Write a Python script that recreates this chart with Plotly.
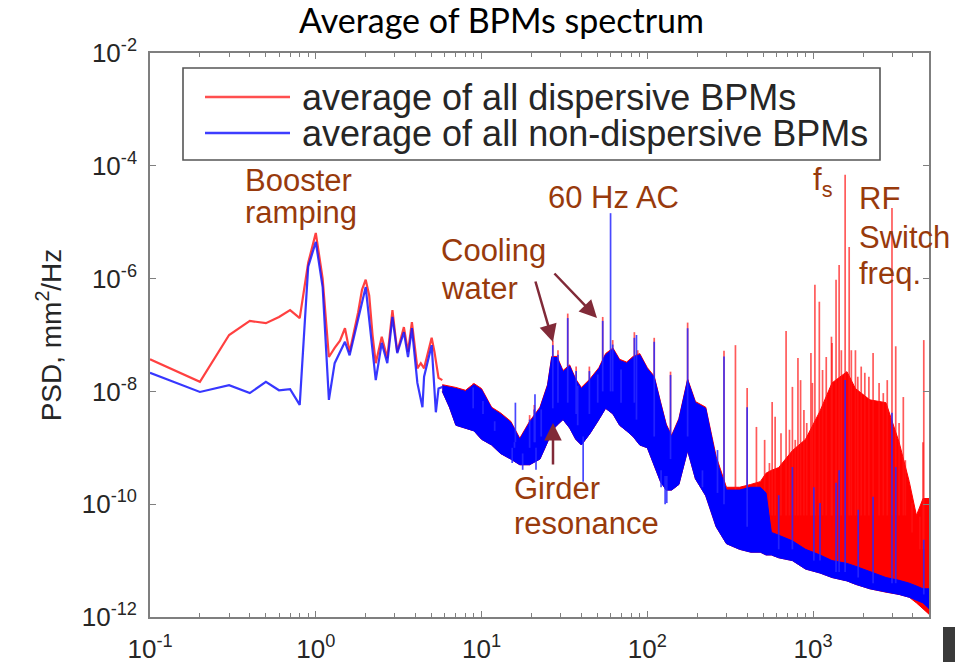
import numpy as np
import plotly.graph_objects as go

# ---------------- data (PSD values given as log10(mm^2/Hz)) ----------------
# low-frequency part, resolved as a line
red_low_f = [0.1, 0.2, 0.3, 0.4, 0.5, 0.6, 0.7, 0.8, 0.9, 1.0, 1.1, 1.2, 1.3, 1.4, 1.5, 1.6, 1.8, 1.9, 2.0,
             2.1, 2.2, 2.3, 2.5, 2.7, 2.9, 3.1, 3.4, 3.6, 3.8, 4.1, 4.3, 4.5, 5.0, 5.2, 5.5, 5.8]
red_low_log = [-7.43, -7.83, -7.0, -6.75, -6.79, -6.68, -6.56, -6.70, -5.72, -5.19, -6.0, -7.39, -7.23, -7.1,
               -6.88, -7.30, -6.6, -6.2, -6.02, -6.3, -7.0, -7.5, -7.03, -7.41, -6.56, -7.30, -6.86, -7.3,
               -6.77, -7.59, -7.5, -7.59, -7.05, -7.3, -7.76, -7.8]

blue_low_f = [0.1, 0.2, 0.3, 0.4, 0.5, 0.6, 0.7, 0.8, 0.9, 1.0, 1.1, 1.2, 1.3, 1.5, 1.6, 1.8, 2.0, 2.3, 2.5,
              2.7, 2.9, 3.1, 3.4, 3.6, 3.8, 4.1, 4.4, 4.5, 5.0, 5.3, 5.5, 5.8]
blue_low_log = [-7.67, -8.01, -7.89, -8.03, -7.83, -7.98, -7.96, -8.24, -5.79, -5.35, -6.15, -8.15, -7.50,
                -7.12, -7.36, -6.7, -6.15, -7.80, -7.14, -7.50, -6.68, -7.32, -6.95, -7.39, -6.88, -7.85,
                -8.28, -7.74, -7.18, -8.37, -7.95, -7.92]

# dense part, drawn as the band between the upper and lower edge of the trace
band_f = [5.8, 6.4, 7, 8, 9, 10, 11.5, 13, 15, 17, 19.5, 22.5, 25, 26.5, 28.5, 31, 34, 37, 40, 45, 51, 56,
          62, 68, 75, 82, 90, 100, 110, 120, 130, 140, 155, 175, 195, 225, 260, 300, 360, 420, 480, 520,
          560, 620, 750, 900, 1100, 1300, 1600, 1800, 2200, 2750, 3300, 3800, 4200, 4600, 5000]
blue_band_upper = [-7.9, -7.92, -7.95, -8.0, -7.88, -7.97, -8.3, -8.4, -8.55, -8.85, -8.55, -8.3,
                   -7.9, -7.4, -7.4, -7.65, -7.55, -7.8, -7.95, -7.8, -7.6, -7.35, -7.25, -7.45,
                   -7.5, -7.4, -7.35, -7.6, -7.75, -8.2, -8.6, -8.8, -8.5, -7.8, -8.2, -8.3,
                   -9.2, -9.75, -9.75, -9.7, -9.7, -9.8, -10.5, -10.55, -10.65, -10.8, -10.9, -11.0,
                   -11.05, -11.1, -11.2, -11.3, -11.35, -11.4, -11.45, -11.5, -11.5]
blue_band_lower = [-8.0, -8.28, -8.6, -8.65, -8.7, -8.85, -8.95, -9.1, -9.2, -9.3, -9.3, -9.2,
                   -8.9, -8.7, -8.6, -8.5, -8.65, -8.85, -8.95, -8.75, -8.5, -8.3, -8.4, -8.6,
                   -8.7, -8.8, -8.95, -9.0, -9.3, -9.6, -9.75, -9.75, -9.65, -9.05, -9.55, -9.85,
                   -10.4, -10.7, -10.8, -10.85, -10.85, -10.9, -10.9, -10.95, -11.0, -11.15, -11.22, -11.3,
                   -11.36, -11.42, -11.5, -11.56, -11.6, -11.65, -11.7, -11.75, -11.85]
red_band_upper = [-7.88, -7.9, -7.93, -7.98, -7.86, -7.95, -8.28, -8.38, -8.53, -8.83, -8.53, -8.28,
                  -7.88, -7.38, -7.38, -7.63, -7.53, -7.78, -7.93, -7.78, -7.58, -7.33, -7.23, -7.43,
                  -7.48, -7.38, -7.33, -7.58, -7.73, -8.18, -8.58, -8.78, -8.48, -7.78, -8.18, -8.28,
                  -9.15, -9.7, -9.7, -9.65, -9.6, -9.45, -9.4, -9.35, -9.05, -8.85, -8.35, -7.85,
                  -7.65, -7.95, -8.15, -8.2, -8.9, -9.6, -10.2, -9.9, -9.9]
red_band_lower = [-8.0, -8.28, -8.6, -8.65, -8.7, -8.85, -8.95, -9.1, -9.2, -9.3, -9.3, -9.2,
                  -8.9, -8.7, -8.6, -8.5, -8.65, -8.85, -8.95, -8.75, -8.5, -8.3, -8.4, -8.6,
                  -8.7, -8.8, -8.95, -9.0, -9.3, -9.6, -9.75, -9.75, -9.65, -9.05, -9.55, -9.85,
                  -10.4, -10.7, -10.8, -10.85, -10.85, -10.9, -10.9, -10.95, -11.0, -11.15, -11.22, -11.3,
                  -11.36, -11.42, -11.5, -11.56, -11.6, -11.65, -11.75, -11.85, -11.95]

# narrow lines (spikes): frequency, level inside the band, level at the tip
red_spike_f = [8.9, 10.2, 12.0, 13.4, 15.8, 18.2, 19.5, 20.8, 22.9, 25.1, 26.9, 28.9, 33.1, 37.2, 41.7, 44.7,
               50.2, 53.8, 61.8, 69.4, 83.5, 87.5, 98.2, 110, 138, 175, 290, 340, 400, 455, 510, 545, 566,
               590, 640, 687, 720, 750, 780, 810, 840, 880, 915, 970, 990, 1025, 1090, 1140, 1200, 1290,
               1300, 1375, 1435, 1480, 1560, 1650, 1700, 1800, 1860, 1950, 2050, 2170, 2300, 2500, 2650,
               2800, 2990, 3150, 3300, 3500, 3600, 3950, 4400, 4600, 4650]
red_spike_base = [-8.3, -8.4, -8.7, -8.8, -9.0, -9.1, -9.0, -8.9, -8.8, -8.6, -8.2, -8.2, -8.2, -8.4, -8.5,
                  -8.4, -8.2, -8.0, -8.0, -8.2, -8.2, -8.2, -8.4, -8.5, -9.2, -8.8, -10.0, -10.2, -10.2,
                  -10.2, -10.2, -10.2, -10.2, -10.2, -10.2, -10.2, -10.2, -10.2, -10.2, -10.2, -10.2,
                  -10.2, -10.2, -10.2, -10.2, -10.2, -10.2, -10.2, -10.2, -10.2, -10.2, -10.2, -10.2,
                  -10.2, -10.2, -10.2, -10.2, -10.2, -10.2, -10.2, -10.2, -10.2, -10.2, -10.2, -10.2,
                  -10.2, -10.2, -10.2, -10.2, -10.2, -10.2, -10.5, -10.8, -10.8, -10.8]
red_spike_peak = [-7.86, -8.09, -8.45, -8.57, -8.83, -8.86, -8.42, -8.24, -8.24, -8.09, -7.1, -7.27, -6.62,
                  -7.56, -7.92, -7.56, -7.62, -6.68, -7.09, -7.53, -6.95, -7.27, -7.68, -7.05, -7.65,
                  -6.78, -7.28, -7.18, -7.94, -8.63, -8.86, -9.27, -8.19, -8.45, -8.74, -6.93, -8.68,
                  -7.92, -8.86, -7.41, -7.8, -8.33, -8.56, -7.32, -7.85, -6.11, -6.41, -7.62, -7.39,
                  -7.03, -7.14, -6.02, -5.76, -7.27, -4.16, -5.44, -7.27, -7.27, -7.74, -7.56, -7.67,
                  -7.74, -7.32, -7.85, -8.03, -7.8, -4.75, -7.2, -8.56, -8.1, -9.22, -9.98, -10.22,
                  -8.9, -7.09]

blue_spike_f = [8.9, 10.2, 12.0, 15.8, 16, 19.5, 20.8, 21, 22.9, 26.9, 28.9, 33.1, 37.2, 38, 41, 44.7, 50.2,
                53.8, 60, 61.8, 69.4, 83.5, 86, 110, 128, 138, 175, 265, 290, 400, 620, 750, 1010, 1100,
                1375, 1435, 1560, 1870, 2300, 2990, 3150, 4650,
                15.3, 17.7, 21.3, 121, 131, 215]
blue_spike_base = [-8.3, -8.4, -8.7, -9.0, -8.9, -9.0, -8.9, -8.9, -8.8, -8.3, -8.2, -8.2, -8.4, -8.6, -8.8,
                   -8.4, -8.2, -8.0, -8.0, -8.0, -8.2, -8.2, -8.5, -8.8, -9.5, -9.2, -8.8, -9.8, -10.0,
                   -10.4, -10.8, -10.8, -11.0, -11.0, -11.2, -11.2, -11.2, -11.3, -11.4, -11.4, -11.4, -11.6,
                   -9.0, -9.1, -9.0, -9.4, -9.5, -9.4]
blue_spike_peak = [-7.93, -8.17, -8.53, -8.9, -8.2, -8.5, -8.32, -8.05, -8.32, -7.18, -7.35, -6.7, -7.64,
                   -7.9, -9.6, -7.64, -7.7, -6.75, -4.84, -7.17, -7.61, -7.05, -7.0, -7.12, -10.0, -7.71,
                   -6.88, -9.04, -7.38, -8.28, -9.84, -9.34, -9.7, -9.98, -9.62, -9.4, -7.8, -10.1, -9.87,
                   -8.38, -9.34, -10.63,
                   -9.27, -9.39, -9.39, -9.7, -9.98, -9.7]

series_names = ["average of all dispersive BPMs", "average of all non-dispersive BPMs"]
x_range_hz = [0.1, 5000]
y_range_log = [-12, -2]
x_tick_vals = [0.1, 1, 10, 100, 1000]
x_tick_text = ["10<sup>-1</sup>", "10<sup>0</sup>", "10<sup>1</sup>", "10<sup>2</sup>", "10<sup>3</sup>"]
x_minor_vals = [0.2, 0.3, 0.4, 0.5, 0.6, 0.7, 0.8, 0.9, 2, 3, 4, 5, 6, 7, 8, 9, 20, 30, 40, 50, 60, 70, 80,
                90, 200, 300, 400, 500, 600, 700, 800, 900, 2000, 3000, 4000, 5000]
y_tick_vals = [1e-12, 1e-10, 1e-8, 1e-6, 1e-4, 1e-2]
y_tick_text = ["10<sup>-12</sup>", "10<sup>-10</sup>", "10<sup>-8</sup>", "10<sup>-6</sup>",
               "10<sup>-4</sup>", "10<sup>-2</sup>"]

# ---------------- helpers ----------------
def pw(vals):
    return [10.0 ** v for v in vals]

def band_polygon(f, up, lo):
    return list(f) + list(f)[::-1], pw(list(up) + list(lo)[::-1])

def spike_xy(f, base, peak):
    xs, ys = [], []
    for fi, b, p in zip(f, base, peak):
        xs += [fi, fi, None]
        ys += [10.0 ** b, 10.0 ** p, None]
    return xs, ys

RED = "rgb(255,0,0)"
BLUE = "rgb(0,0,255)"

fig = go.Figure()

bx, by = band_polygon(band_f, red_band_upper, red_band_lower)
fig.add_trace(go.Scatter(x=bx, y=by, fill="toself", fillcolor=RED, mode="lines",
                         line=dict(color=RED, width=1), showlegend=False, hoverinfo="skip"))
sx, sy = spike_xy(red_spike_f, red_spike_base, red_spike_peak)
fig.add_trace(go.Scatter(x=sx, y=sy, mode="lines", line=dict(color="rgba(255,20,20,0.7)", width=1.7),
                         showlegend=False, hoverinfo="skip"))
fig.add_trace(go.Scatter(x=red_low_f, y=pw(red_low_log), mode="lines",
                         line=dict(color="rgba(255,30,30,0.85)", width=2.2), name=series_names[0],
                         showlegend=False))

bx, by = band_polygon(band_f, blue_band_upper, blue_band_lower)
fig.add_trace(go.Scatter(x=bx, y=by, fill="toself", fillcolor=BLUE, mode="lines",
                         line=dict(color=BLUE, width=1), showlegend=False, hoverinfo="skip"))
sx, sy = spike_xy(blue_spike_f, blue_spike_base, blue_spike_peak)
fig.add_trace(go.Scatter(x=sx, y=sy, mode="lines", line=dict(color="rgba(40,40,255,0.85)", width=1.7),
                         showlegend=False, hoverinfo="skip"))
fig.add_trace(go.Scatter(x=blue_low_f, y=pw(blue_low_log), mode="lines",
                         line=dict(color="rgba(20,20,255,0.85)", width=2.2), name=series_names[1],
                         showlegend=False))

# ---------------- layout ----------------
L, R, T, B = 150, 929, 53, 617
W, H = 955, 666

def PX(x):
    return (x - L) / (R - L)

def PY(y):
    return (B - y) / (B - T)

AX = "#7f7f7f"
TXT = "#262626"
tickfont = dict(family="Liberation Sans, Arial, sans-serif", size=26, color=TXT)

fig.update_layout(
    width=W, height=H,
    margin=dict(l=L, r=W - R, t=T, b=H - B, pad=0, autoexpand=False),
    paper_bgcolor="white", plot_bgcolor="white",
    showlegend=False,
    xaxis=dict(type="log", range=[np.log10(x_range_hz[0]), np.log10(x_range_hz[1])], automargin=False,
               tickmode="array", tickvals=x_tick_vals, ticktext=x_tick_text,
               ticks="inside", ticklen=6, tickwidth=1.2,
               tickcolor=AX, showline=True, linecolor=AX, linewidth=1.6, mirror="ticks",
               showgrid=False, zeroline=False, tickfont=tickfont, ticklabelstandoff=8,
               minor=dict(tickmode="array", tickvals=x_minor_vals, ticks="inside", ticklen=4,
                          tickcolor=AX, tickwidth=1, showgrid=False)),
    yaxis=dict(type="log", range=y_range_log, automargin=False, tickmode="array", tickvals=y_tick_vals,
               ticktext=y_tick_text,
               ticks="inside", ticklen=6, tickwidth=1.2, tickcolor=AX, showline=True, linecolor=AX,
               linewidth=1.6, mirror="ticks", showgrid=False, zeroline=False, tickfont=tickfont,
               ticklabelstandoff=6,
               title=dict(text="PSD, mm<sup>2</sup>/Hz", standoff=12,
                          font=dict(family="Liberation Sans, Arial, sans-serif", size=28, color=TXT))),
)

ann = []
ann.append(dict(text="Average of BPMs spectrum", x=PX(501), y=PY(20), xref="paper", yref="paper",
                showarrow=False, xanchor="center", yanchor="middle",
                font=dict(family="Lato, sans-serif", size=34, color="black")))

BROWN = "#983a0c"
afont = dict(family="Liberation Sans, Arial, sans-serif", size=31, color=BROWN)
labels = [("Booster", 243, 180), ("ramping", 243, 213), ("60 Hz AC", 546, 197),
          ("Cooling", 439, 250), ("water", 439, 288), ("Girder", 512, 488), ("resonance", 512, 523),
          ("f<sub>s</sub>", 811, 182), ("RF", 857, 198), ("Switch", 857, 237), ("freq.", 857, 273)]
for t, x, y in labels:
    ann.append(dict(text=t, x=PX(x), y=PY(y), xref="paper", yref="paper", showarrow=False,
                    xanchor="left", yanchor="middle", font=afont))

ARR = "#812a38"
arrows = [((553, 342), (535, 280)), ((597, 318), (553, 272)), ((553, 423), (553, 466))]
for (hx, hy), (tx, ty) in arrows:
    ann.append(dict(text="", x=PX(hx), y=PY(hy), xref="paper", yref="paper", showarrow=True,
                    ax=tx - hx, ay=ty - hy, arrowcolor=ARR, arrowwidth=2.5, arrowhead=2, arrowsize=1.4))

# legend box (drawn by hand to match the long line samples)
lfont = dict(family="Liberation Sans, Arial, sans-serif", size=36, color=TXT)
ann.append(dict(text=series_names[0], x=PX(300), y=PY(97), xref="paper", yref="paper", showarrow=False,
                xanchor="left", yanchor="middle", font=lfont))
ann.append(dict(text=series_names[1], x=PX(300), y=PY(133), xref="paper", yref="paper", showarrow=False,
                xanchor="left", yanchor="middle", font=lfont))

shapes = [
    dict(type="rect", xref="paper", yref="paper", x0=PX(183), x1=PX(880), y0=PY(160), y1=PY(68),
         line=dict(color="#555555", width=1.6), fillcolor="white", layer="above"),
    dict(type="line", xref="paper", yref="paper", x0=PX(205), x1=PX(290), y0=PY(97), y1=PY(97),
         line=dict(color="rgba(255,60,60,0.9)", width=2.5), layer="above"),
    dict(type="line", xref="paper", yref="paper", x0=PX(205), x1=PX(290), y0=PY(133), y1=PY(133),
         line=dict(color="rgba(40,40,255,0.9)", width=2.5), layer="above"),
    dict(type="rect", xref="paper", yref="paper", x0=PX(943), x1=PX(956), y0=PY(662), y1=PY(627),
         line=dict(width=0), fillcolor="#3a3a3a", layer="above"),
]

fig.update_layout(annotations=ann, shapes=shapes)
fig.write_html("out.html")
